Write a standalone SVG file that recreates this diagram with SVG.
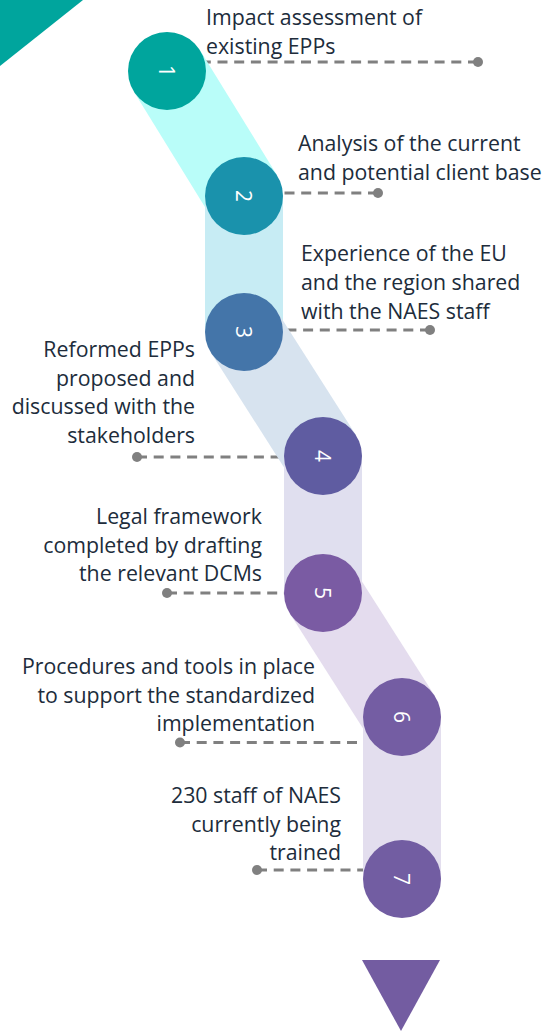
<svg xmlns="http://www.w3.org/2000/svg" width="553" height="1032" viewBox="0 0 553 1032">
  <style>
    .lbl { font-family: "Open Sans", "Noto Sans", "Liberation Sans", sans-serif; font-size: 21.3px; fill: #202c3b; }
    .num { font-family: "Open Sans", "Noto Sans", "Liberation Sans", sans-serif; font-size: 21px; font-weight: 400; fill: #ffffff; text-anchor: middle; }
    .dash { fill: none; stroke: #808080; stroke-width: 3; stroke-dasharray: 10 6.7; }
    .dot { fill: #808080; }
    .band { fill: none; stroke-width: 78; stroke-linecap: butt; }
    .r { text-anchor: end; }
  </style>
  <rect width="553" height="1032" fill="#ffffff"/>
  <polygon id="corner" points="0,0 83,0 0,66" fill="#00a59d"/>

  <g id="connectors">
    <path class="dash" d="M478,62 H167"/>
    <circle class="dot" cx="478" cy="62" r="5"/>
    <path class="dash" d="M378,193 H244"/>
    <circle class="dot" cx="378" cy="193" r="5"/>
    <path class="dash" d="M430,330 H244"/>
    <circle class="dot" cx="430" cy="330" r="5"/>
    <path class="dash" d="M137,457 H323"/>
    <circle class="dot" cx="137" cy="457" r="5"/>
    <path class="dash" d="M167,593 H323"/>
    <circle class="dot" cx="167" cy="593" r="5"/>
    <path class="dash" d="M180,742.5 H402"/>
    <circle class="dot" cx="180" cy="742.5" r="5"/>
    <path class="dash" d="M257,870 H402"/>
    <circle class="dot" cx="257" cy="870" r="5"/>
  </g>

  <g id="path-bands">
    <line class="band" x1="167" y1="71" x2="244" y2="196" stroke="#b9fdf9"/>
    <line class="band" x1="244" y1="196" x2="244" y2="332" stroke="#c7ecf4"/>
    <line class="band" x1="244" y1="332" x2="323" y2="456" stroke="#d7e3ef"/>
    <line class="band" x1="323" y1="456" x2="323" y2="593" stroke="#e0dfef"/>
    <line class="band" x1="323" y1="593" x2="402" y2="717" stroke="#e4dcee"/>
    <line class="band" x1="402" y1="717" x2="402" y2="879" stroke="#e3deee"/>
  </g>

  <g id="node-1">
    <circle cx="167" cy="71" r="39" fill="#00a59d"/>
    <text class="num" transform="translate(167,71) rotate(90)" dy="0.36em">1</text>
    <text class="lbl" x="206" y="25">Impact assessment of</text>
    <text class="lbl" x="206" y="53.5">existing EPPs</text>
  </g>
  <g id="node-2">
    <circle cx="244" cy="196" r="39" fill="#1a92ac"/>
    <text class="num" transform="translate(244,196) rotate(90)" dy="0.36em">2</text>
    <text class="lbl" x="298" y="151">Analysis of the current</text>
    <text class="lbl" x="298" y="180">and potential client base</text>
  </g>
  <g id="node-3">
    <circle cx="244" cy="332" r="39" fill="#4475a9"/>
    <text class="num" transform="translate(244,332) rotate(90)" dy="0.36em">3</text>
    <text class="lbl" x="301" y="261">Experience of the EU</text>
    <text class="lbl" x="301" y="290">and the region shared</text>
    <text class="lbl" x="301" y="318.5">with the NAES staff</text>
  </g>
  <g id="node-4">
    <circle cx="323" cy="456" r="39" fill="#5f5ca1"/>
    <text class="num" transform="translate(323,456) rotate(90)" dy="0.36em">4</text>
    <text class="lbl r" x="195" y="357">Reformed EPPs</text>
    <text class="lbl r" x="195" y="385.5">proposed and</text>
    <text class="lbl r" x="195" y="414">discussed with the</text>
    <text class="lbl r" x="195" y="442.5">stakeholders</text>
  </g>
  <g id="node-5">
    <circle cx="323" cy="593" r="39" fill="#7a5ba3"/>
    <text class="num" transform="translate(323,593) rotate(90)" dy="0.36em">5</text>
    <text class="lbl r" x="262" y="523.5">Legal framework</text>
    <text class="lbl r" x="262" y="552.5">completed by drafting</text>
    <text class="lbl r" x="262" y="581">the relevant DCMs</text>
  </g>
  <g id="node-6">
    <circle cx="402" cy="717" r="39" fill="#745da3"/>
    <text class="num" transform="translate(402,717) rotate(90)" dy="0.36em">6</text>
    <text class="lbl r" x="315" y="673.5">Procedures and tools in place</text>
    <text class="lbl r" x="315" y="702.5">to support the standardized</text>
    <text class="lbl r" x="315" y="731">implementation</text>
  </g>
  <g id="node-7">
    <circle cx="402" cy="879" r="39" fill="#725da2"/>
    <text class="num" transform="translate(402,879) rotate(90)" dy="0.36em">7</text>
    <text class="lbl r" x="341" y="802.5">230 staff of NAES</text>
    <text class="lbl r" x="341" y="831.5">currently being</text>
    <text class="lbl r" x="341" y="860">trained</text>
  </g>
  <polygon id="end-arrow" points="362,960 440,960 401,1031" fill="#735ca1"/>
</svg>
